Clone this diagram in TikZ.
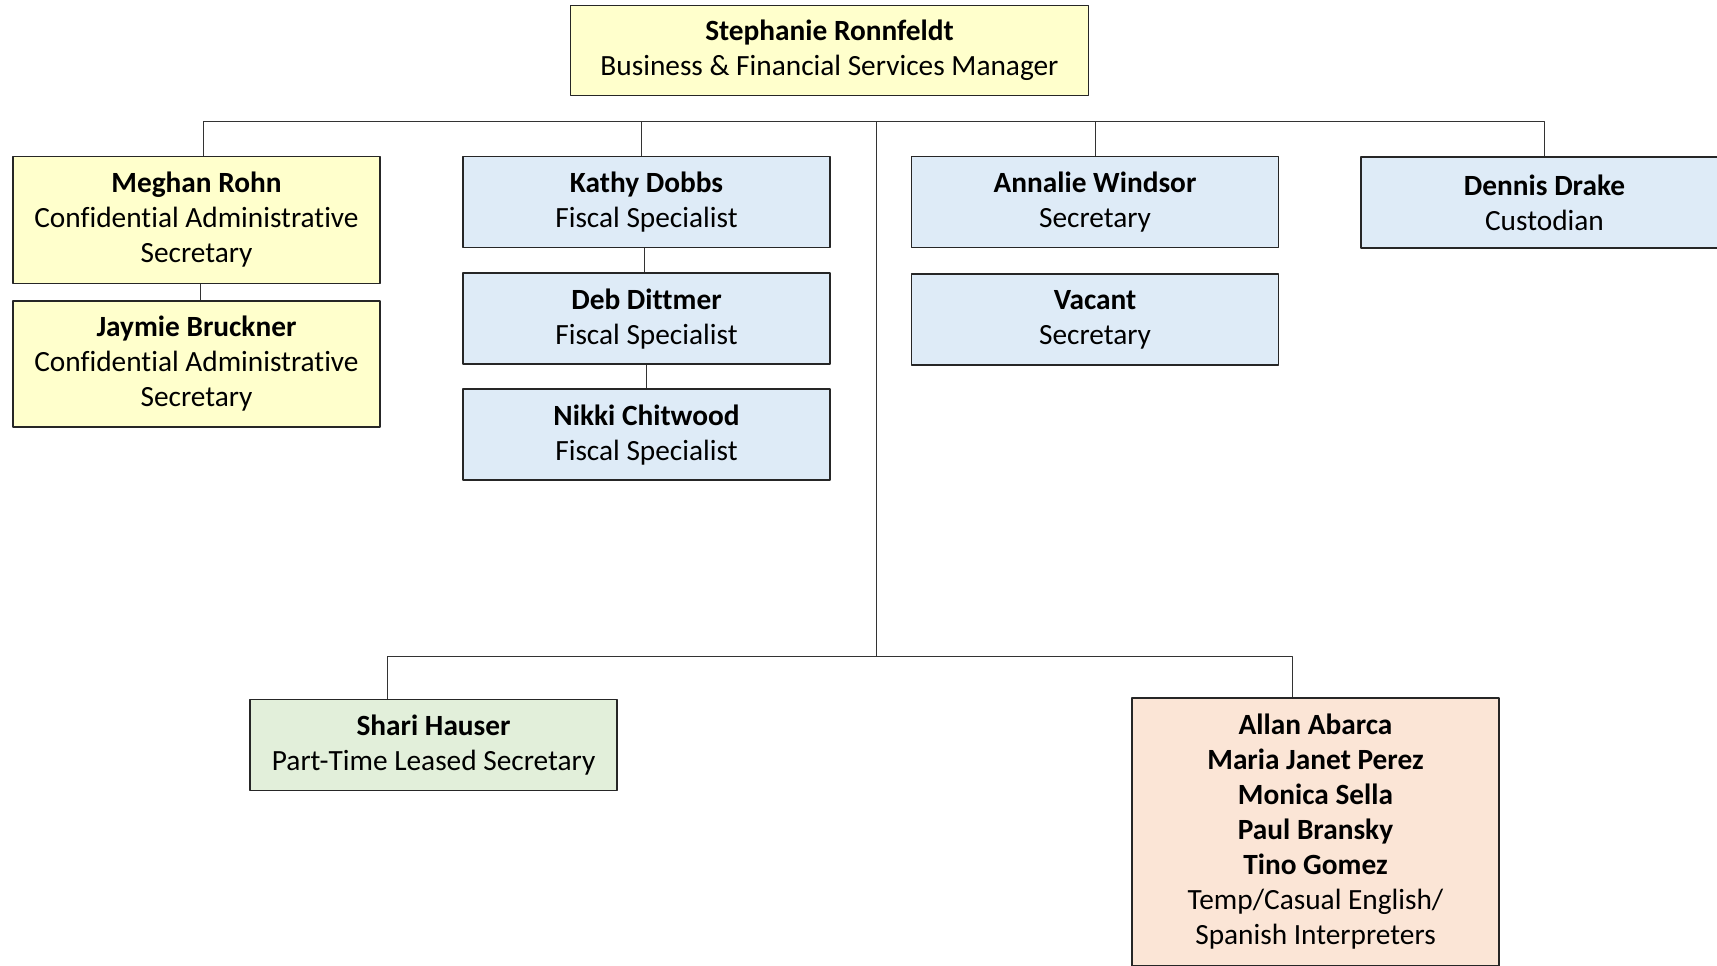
\documentclass[tikz,border=0pt]{standalone}
\usepackage{fontspec}
\setmainfont[Ligatures=NoCommon]{Carlito}
\definecolor{chartyellow}{HTML}{FFFFCC}
\definecolor{chartblue}{HTML}{DEEBF7}
\definecolor{chartgreen}{HTML}{E2EFDA}
\definecolor{chartpeach}{HTML}{FBE5D6}
\begin{document}
\begin{tikzpicture}[x=0.75pt,y=-0.75pt, line join=round,font=\fontsize{22}{26.25}\selectfont,
	box/.style={draw=black!85,line width=1.1pt,align=center,inner sep=0pt,minimum width=275.25pt,minimum height=68.25pt},
	yellowbox/.style={box,fill=chartyellow},
	bluebox/.style={box,fill=chartblue},
	link/.style={draw=black!80,line width=0.75pt}]
	\useasboundingbox (0,0) rectangle (1717,966);
	%Quản lý
	\node[yellowbox,minimum width=388.5pt,minimum height=67.5pt] (ronnfeldt) at (829.5,50.4) {\textbf{Stephanie Ronnfeldt}\\Business \& Financial Services Manager};
	%Cột trái
	\node[yellowbox,minimum height=95.25pt] (rohn) at (196.5,220) {\textbf{Meghan Rohn}\\Confidential Administrative\\Secretary};
	\node[yellowbox,minimum height=94.5pt] (bruckner) at (196.5,364) {\textbf{Jaymie Bruckner}\\Confidential Administrative\\Secretary};
	%Fiscal
	\node[bluebox] (dobbs) at (646.5,202) {\textbf{Kathy Dobbs}\\Fiscal Specialist};
	\node[bluebox] (dittmer) at (646.5,318.7) {\textbf{Deb Dittmer}\\Fiscal Specialist};
	\node[bluebox] (chitwood) at (646.5,434.7) {\textbf{Nikki Chitwood}\\Fiscal Specialist};
	%Secretary
	\node[bluebox] (windsor) at (1095,202) {\textbf{Annalie Windsor}\\Secretary};
	\node[bluebox] (vacant) at (1095,319.7) {\textbf{Vacant}\\Secretary};
	\node[bluebox] (drake) at (1544.5,202.6) {\textbf{Dennis Drake}\\Custodian};
	%Hàng dưới
	\node[box,fill=chartgreen] (hauser) at (433.6,745) {\textbf{Shari Hauser}\\Part-Time Leased Secretary};
	\node[box,fill=chartpeach,minimum height=201pt] (interp) at (1315.5,831.8) {\textbf{Allan Abarca}\\\textbf{Maria Janet Perez}\\\textbf{Monica Sella}\\\textbf{Paul Bransky}\\\textbf{Tino Gomez}\\Temp/Casual English/\\Spanish Interpreters};
	%Đường nối
	\coordinate (busL) at (203.7,121.5);
	\coordinate (busR) at (1544.5,121.5);
	\coordinate (trunk) at (876,121.5);
	\coordinate (lowL) at (387.6,656);
	\coordinate (lowR) at (1292,656);
	\coordinate (lowM) at (876,656);
	\draw[link] (busL|-rohn.north)--(busL)--(busR)--(drake.north);
	\draw[link] (641.7,121.5)--(641.7,0|-dobbs.north);
	\draw[link] (windsor.north)--(windsor.north|-busL);
	\draw[link] (trunk)--(lowM);
	\draw[link] (lowL|-hauser.north)--(lowL)--(lowR)--(lowR|-interp.north);
	\draw[link] (200,0|-rohn.south)--(200,0|-bruckner.north);
	\draw[link] (644,0|-dobbs.south)--(644,0|-dittmer.north);
	\draw[link] (646,0|-dittmer.south)--(646,0|-chitwood.north);
\end{tikzpicture}
\end{document}
